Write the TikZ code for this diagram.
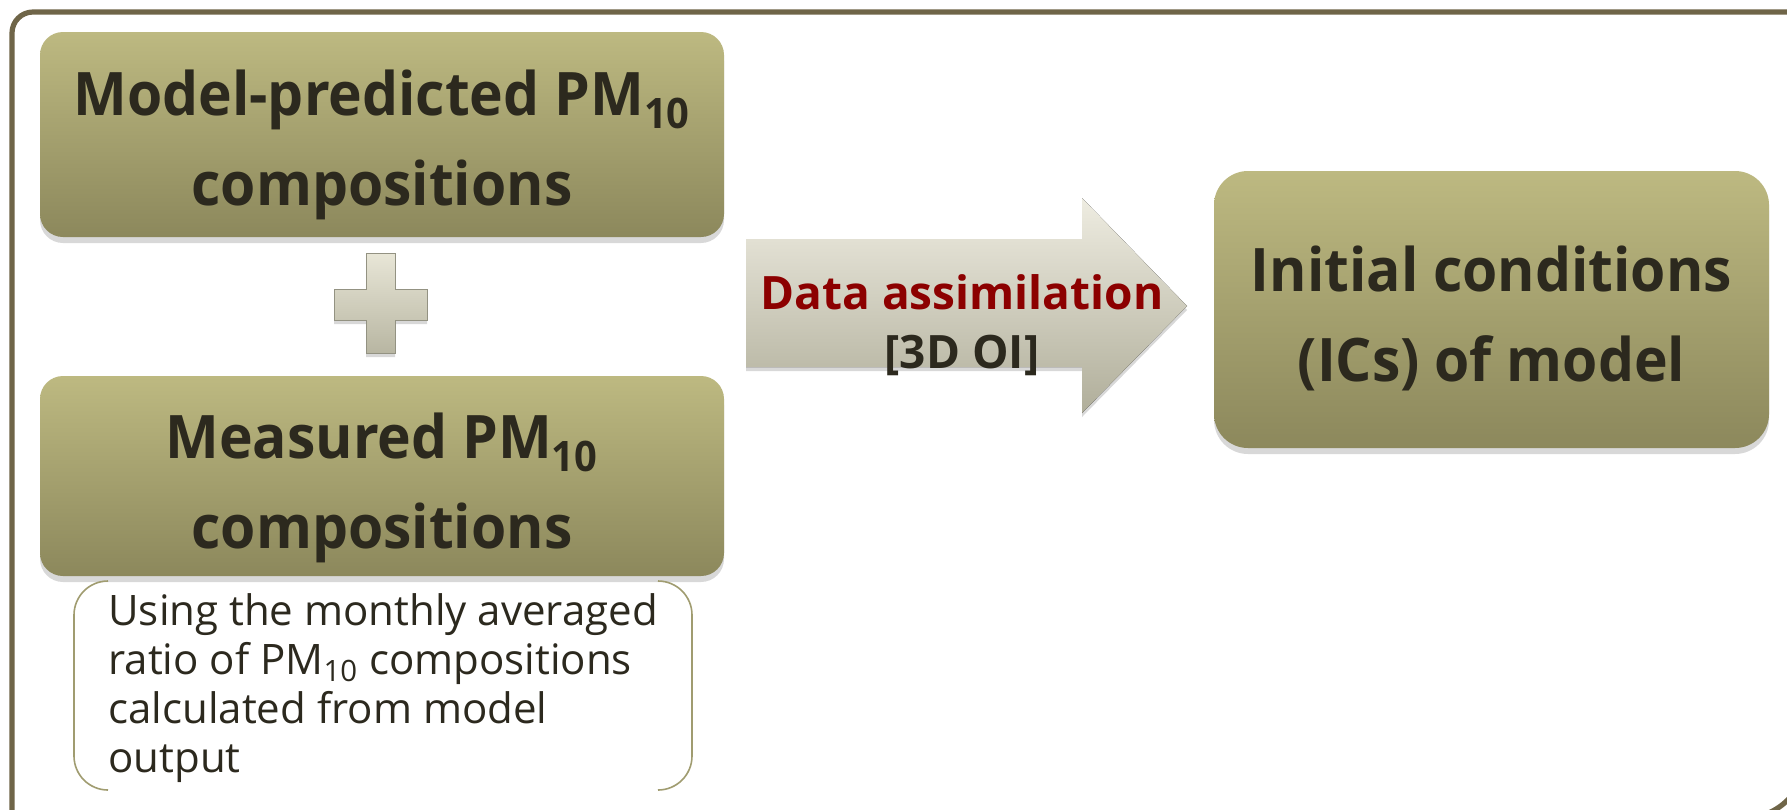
\documentclass[tikz,border=0pt]{standalone}
\usepackage{fontspec}
\setmainfont{Open Sans}
\usetikzlibrary{shadows,positioning}
\definecolor{frm}{RGB}{111,101,72}
\definecolor{olvtop}{RGB}{189,185,129}
\definecolor{olvbot}{RGB}{140,136,92}
\definecolor{txt}{RGB}{44,41,30}
\definecolor{arrtop}{RGB}{238,236,225}
\definecolor{arrbot}{RGB}{176,174,154}
\definecolor{plustop}{RGB}{232,230,215}
\definecolor{plusbot}{RGB}{184,182,162}
\definecolor{dred}{RGB}{140,0,0}
\definecolor{brk}{RGB}{160,156,112}

\tikzset{
  box/.style={rounded corners=11.5pt, top color=olvtop, bottom color=olvbot,
    inner sep=0pt,
    drop shadow={opacity=0.3, shadow xshift=0pt, shadow yshift=-3pt}},
  boxtext/.style={text=txt, align=center, inner sep=0pt,
    font=\fontsize{30}{45}\selectfont\bfseries\addfontfeature{FakeStretch=0.95}},
  bracket/.style={brk, line width=0.8pt, rounded corners=17pt}
}

\begin{document}
\begin{tikzpicture}[x=0.5pt,y=-0.5pt]
\useasboundingbox (0,0) rectangle (1787,809);
\clip (0,0) rectangle (1787,809);
\fill[white] (0,0) rectangle (1787,809);
\draw[frm, line width=2.6pt] (12,818) -- (12,33) arc[start angle=180, end angle=270, radius=21]
  -- (1806,12) -- (1806,756) arc[start angle=0, end angle=90, radius=62] -- cycle;

\node[box, minimum width=342pt, minimum height=102.5pt] (predicted) at (382,134.5) {};
\node[boxtext, yshift=-5pt] (predictedtext) at (predicted.center) {Model-predicted PM\textsubscript{10}\\compositions};
\node[box, minimum width=342pt, minimum height=100pt] (measured) at (382,476) {};
\node[boxtext, yshift=-6pt] (measuredtext) at (measured.center) {Measured PM\textsubscript{10}\\compositions};
\node[box, rounded corners=17pt, minimum width=277.5pt, minimum height=138.5pt] (ics) at (1491.5,309.5) {};
\node[boxtext, yshift=-4.5pt] (icstext) at (ics.center) {Initial conditions\\(ICs) of model};

\fill[top color=plustop, bottom color=plusbot, draw=plusbot!80!black, line width=0.4pt,
  drop shadow={opacity=0.3, shadow xshift=0pt, shadow yshift=-2pt}]
  (366,253) -- (395,253) -- (395,289) -- (427,289) -- (427,320) -- (395,320) -- (395,353)
  -- (366,353) -- (366,320) -- (334,320) -- (334,289) -- (366,289) -- cycle;

\fill[top color=arrtop, bottom color=arrbot,
  drop shadow={opacity=0.3, shadow xshift=0pt, shadow yshift=-2pt}]
  (746,239) -- (1082,239) -- (1082,198) -- (1187,306) -- (1082,413) -- (1082,367) -- (746,367) -- cycle;
\node[font=\fontsize{23}{29.5}\selectfont\bfseries, text=txt, align=center, inner sep=0pt] (assim) at (962,325)
  {\textcolor{dred}{Data assimilation}\\{[3D OI]}};

\node[align=left, inner sep=0pt, anchor=north west, text=txt,
  font=\fontsize{21}{24.5}\selectfont] (note) at (108,593)
  {Using the monthly averaged\\ratio of PM\textsubscript{10} compositions\\calculated from model\\output};
\draw[bracket] (108,581) -- (74,581) -- (74,790) -- (108,790);
\draw[bracket] (658,581) -- (692,581) -- (692,790) -- (658,790);
\end{tikzpicture}
\end{document}
